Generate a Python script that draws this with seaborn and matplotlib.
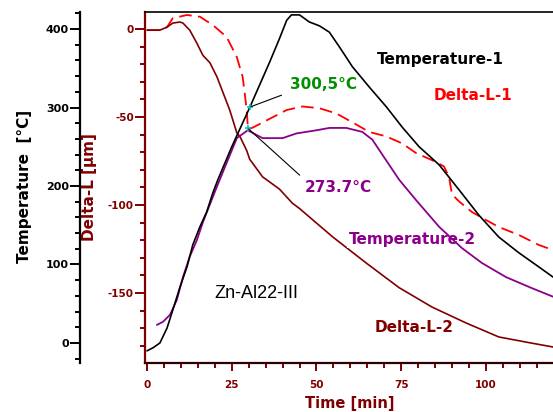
import matplotlib
matplotlib.use("Agg")
import matplotlib.pyplot as plt
import seaborn as sns
import pandas as pd
from matplotlib.ticker import MultipleLocator

# ---------------- data ----------------
time_t1 = [0, 1.8, 3.8, 5.9, 7.6, 9.7, 11.8, 13.5, 15.6, 17.6, 19.4, 20.9, 25.0, 30.3,
           36.2, 39.1, 41.2, 42.6, 45.0, 47.9, 50.9, 53.8, 56.8, 60.6, 65.6, 70.6,
           75.3, 80.3, 86.2, 92.1, 97.9, 103.8, 109.7, 115.6, 119.8]
temp_t1 = [-10, -6, 0, 19, 42, 71, 97, 125, 148, 167, 191, 208, 250, 300,
           358, 388, 411, 418, 418, 409, 404, 396, 377, 352, 326, 301,
           275, 250, 227, 195, 163, 135, 115, 97, 84]

time_t2 = [2.9, 4.7, 6.8, 8.8, 10.6, 12.6, 14.7, 16.5, 18.5, 20.6, 26.5, 29.7,
           34.1, 40.0, 44.1, 50.0, 53.8, 58.8, 63.5, 66.5, 68.5, 74.4, 79.4,
           86.2, 92.9, 98.8, 105.9, 113.5, 119.8]
temp_t2 = [23, 27, 36, 55, 84, 110, 131, 154, 176, 199, 261, 271,
           261, 261, 267, 271, 274, 274, 269, 259, 246, 208, 182,
           148, 121, 102, 84, 70, 59]

time_dl1 = [0, 3.8, 5.9, 7.6, 11.8, 15.6, 19.4, 23.5, 26.5, 28.2, 28.8, 29.4, 29.8,
            31.2, 36.2, 41.2, 45.9, 50.9, 55.9, 60.6, 65.6, 70.6, 75.3, 79.4,
            84.1, 87.6, 89.1, 90.0, 92.1, 95.9, 100.0, 103.8, 109.7, 115.6, 119.8]
dl_1 = [-0.6, -0.6, 1.1, 6.2, 8.0, 7.0, 2.3, -4.5, -16, -27, -36, -46, -57,
        -56, -51, -46, -44, -45, -48, -53, -58.5, -61, -65, -70.5,
        -74.5, -78, -84, -94, -98, -104, -108.5, -112.5, -117, -122.7, -125.6]

time_dl2 = [0, 3.8, 5.9, 7.6, 9.7, 10.6, 12.6, 14.7, 16.5, 18.5, 20.6, 22.4, 24.4,
            26.5, 27.4, 29.4, 30.3, 34.1, 39.1, 42.9, 45.0, 54.7, 64.7, 74.4,
            84.1, 94.1, 103.8, 113.5, 119.8]
dl_2 = [-0.6, -0.6, 1.1, 3.4, 4.0, 3.4, -0.6, -8, -15, -19, -27, -36, -46,
        -59, -61, -69, -74, -84, -91, -99, -102, -118, -133, -147,
        -158, -167, -175, -178.5, -180.7]

ann_times = [30.3, 29.7]
ann_temps = [300.5, 273.7]
ann_labels = ["300,5°C", "273.7°C"]

series_names = ["Temperature-1", "Temperature-2", "Delta-L-1", "Delta-L-2"]
sample_name = "Zn-Al22-III"

# ---------------- style ----------------
sns.set_style("white")
plt.rcParams['font.family'] = ['DejaVu Sans']
plt.rcParams['font.weight'] = 'bold'
plt.rcParams['axes.unicode_minus'] = False

DARK = '#800000'
RED = '#FF0000'
PURPLE = '#8B008B'
GREEN = '#009000'
CYAN = '#00C8C8'

W, H = 553, 412
fig = plt.figure(figsize=(W / 100, H / 100), dpi=100)
ax = fig.add_axes([145 / W, 1 - 363 / H, 408 / W, 351 / H])
axT = ax.twinx()

df_t1 = pd.DataFrame({"t": time_t1, "v": temp_t1})
df_t2 = pd.DataFrame({"t": time_t2, "v": temp_t2})
df_d1 = pd.DataFrame({"t": time_dl1, "v": dl_1})
df_d2 = pd.DataFrame({"t": time_dl2, "v": dl_2})

# Delta-L curves on primary axis
sns.lineplot(data=df_d1, x="t", y="v", ax=ax, color=RED, lw=1.3,
             linestyle=(0, (7, 3.5)), sort=False, estimator=None)
sns.lineplot(data=df_d2, x="t", y="v", ax=ax, color=DARK, lw=1.2,
             sort=False, estimator=None)
# Temperature curves on twin axis
sns.lineplot(data=df_t2, x="t", y="v", ax=axT, color=PURPLE, lw=1.3,
             sort=False, estimator=None)
sns.lineplot(data=df_t1, x="t", y="v", ax=axT, color="black", lw=1.2,
             sort=False, estimator=None)

ax.set_xlim(-0.6, 119.8)
ax.set_ylim(-189.8, 9.7)
axT.set_ylim(-25.5, 421.7)

# ---- primary (Delta-L) axis styling
ax.spines["right"].set_visible(False)
ax.spines["top"].set_color("black")
ax.spines["top"].set_linewidth(1.2)
ax.spines["left"].set_color(DARK)
ax.spines["left"].set_linewidth(1.6)
ax.spines["bottom"].set_color("#300000")
ax.spines["bottom"].set_linewidth(1.6)

ax.xaxis.set_major_locator(MultipleLocator(25))
ax.xaxis.set_minor_locator(MultipleLocator(5))
ax.yaxis.set_major_locator(MultipleLocator(50))
ax.yaxis.set_minor_locator(MultipleLocator(10))
ax.tick_params(axis="both", which="both", direction="out", colors=DARK,
               labelcolor=DARK, labelsize=7.5, width=1.4)
ax.tick_params(axis="y", which="major", length=7, pad=1)
ax.tick_params(axis="y", which="minor", length=3.6)
ax.tick_params(axis="x", which="major", length=6, pad=6)
ax.tick_params(axis="x", which="minor", length=3.6)
ax.tick_params(axis="x", which="both", bottom=True)
ax.tick_params(axis="y", which="both", left=True)

ax.set_xlabel("Time [min]", color=DARK, fontsize=10.5, fontweight="bold")
ax.xaxis.set_label_coords(0.503, -0.095)
ax.set_ylabel("Delta-L [µm]", color=DARK, fontsize=11, fontweight="bold",
              va="center")
ax.yaxis.set_label_coords(-0.135, 0.50)

# ---- temperature axis on the outer left
axT.yaxis.set_ticks_position("left")
axT.yaxis.set_label_position("left")
for s in ["right", "top", "bottom"]:
    axT.spines[s].set_visible(False)
axT.spines["left"].set_visible(True)
axT.spines["left"].set_position(("axes", (80 - 145) / 408))
axT.spines["left"].set_color("black")
axT.spines["left"].set_linewidth(1.6)
axT.yaxis.set_major_locator(MultipleLocator(100))
axT.yaxis.set_minor_locator(MultipleLocator(20))
axT.tick_params(axis="y", which="both", direction="out", colors="black",
                labelsize=8, width=1.4, left=True, right=False,
                labelleft=True, labelright=False)
axT.tick_params(axis="y", which="major", length=7, pad=1)
axT.tick_params(axis="y", which="minor", length=3.6)
axT.set_ylabel("Temperature  [°C]", color="black", fontsize=11,
               fontweight="bold", va="center")
axT.yaxis.set_label_coords((25 - 145) / 408, 0.504)

# ---- annotations of the marked points
axT.plot(ann_times, ann_temps, linestyle="none", marker="+", color=CYAN,
         markersize=5, mew=1.2)
fx = lambda px: (px - 145) / 408
fy = lambda py: (363 - py) / 351
axT.annotate(ann_labels[0], xy=(ann_times[0], ann_temps[0]),
             xytext=(fx(290), fy(92)), textcoords="axes fraction",
             ha="left", va="bottom", color=GREEN, fontsize=11, fontweight="bold",
             arrowprops=dict(arrowstyle="-", color="black", lw=0.8,
                             shrinkA=4, shrinkB=1, relpos=(0, 0)))
axT.annotate(ann_labels[1], xy=(ann_times[1], ann_temps[1]),
             xytext=(fx(305), fy(180)), textcoords="axes fraction",
             ha="left", va="top", color=PURPLE, fontsize=11, fontweight="bold",
             arrowprops=dict(arrowstyle="-", color="black", lw=0.8,
                             shrinkA=2, shrinkB=1, relpos=(0, 1)))

# ---- series labels
lab_kw = dict(transform=ax.transAxes, ha="center", va="center",
              fontsize=11, fontweight="bold")
ax.text(fx(440), fy(59), series_names[0], color="black", **lab_kw)
ax.text(fx(412), fy(239), series_names[1], color=PURPLE,
        bbox=dict(facecolor="white", edgecolor="none", pad=1), zorder=5,
        **lab_kw)
ax.text(fx(473), fy(95), series_names[2], color=RED, **lab_kw)
ax.text(fx(414), fy(328), series_names[3], color=DARK, **lab_kw)
ax.text(fx(256), fy(294), sample_name, color="black", transform=ax.transAxes,
        ha="center", va="center", fontsize=13, fontweight="normal",
        family=["Liberation Sans", "DejaVu Sans"])

fig.savefig("out.png", dpi=100)
